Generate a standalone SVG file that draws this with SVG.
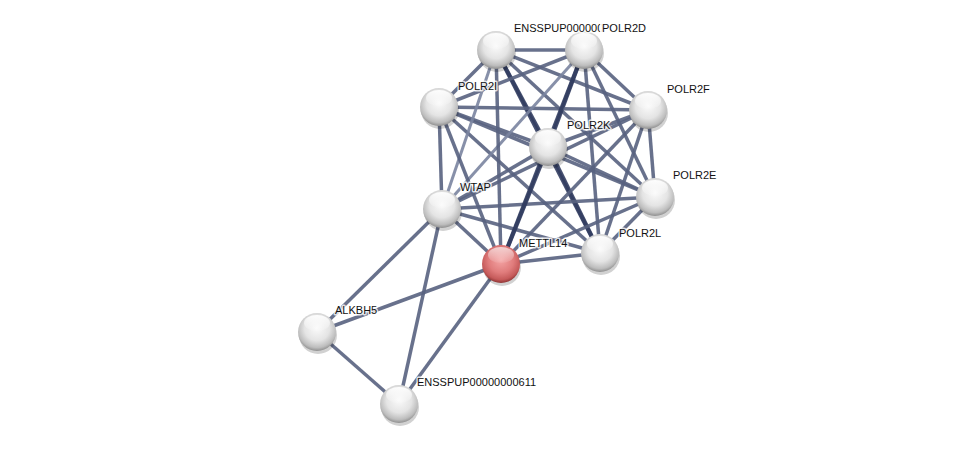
<svg xmlns="http://www.w3.org/2000/svg" width="976" height="449" viewBox="0 0 976 449">
<style>
.e{stroke:#58627f;stroke-width:3.5;stroke-opacity:0.9;fill:none;stroke-linecap:butt}
.d{stroke:#323d60;stroke-width:4}
.l{stroke:#7a84a0;stroke-width:3}
.lab{font-family:"Liberation Sans",Arial,sans-serif;font-size:11px;fill:#111}
.halo{stroke:#ffffff;stroke-width:3;stroke-opacity:0.8;paint-order:stroke;stroke-linejoin:round}
.g{fill:url(#gray)}
.r{fill:url(#red)}
.hl{fill:url(#hil)}
.sh{fill:#000;opacity:0.18}
</style>
<defs>
<radialGradient id="gray" cx="50%" cy="40%" r="60%">
<stop offset="0" stop-color="#fafafa"/>
<stop offset="0.55" stop-color="#e4e4e4"/>
<stop offset="0.85" stop-color="#bdbdbd"/>
<stop offset="1" stop-color="#8f8f8f"/>
</radialGradient>
<radialGradient id="red" cx="50%" cy="40%" r="60%">
<stop offset="0" stop-color="#f4a4a4"/>
<stop offset="0.55" stop-color="#e07c7c"/>
<stop offset="0.85" stop-color="#c55a5a"/>
<stop offset="1" stop-color="#8e3434"/>
</radialGradient>
<linearGradient id="hil" x1="0" y1="0" x2="0" y2="1">
<stop offset="0" stop-color="#ffffff" stop-opacity="0.95"/>
<stop offset="1" stop-color="#ffffff" stop-opacity="0.1"/>
</linearGradient>
</defs>
<rect width="976" height="449" fill="#ffffff"/>
<g id="edges">
<line class="e" x1="496" y1="50" x2="584" y2="50"/>
<line class="e" x1="496" y1="50" x2="439" y2="107"/>
<line class="e" x1="496" y1="50" x2="648" y2="110"/>
<line class="e d" x1="496" y1="50" x2="548" y2="147"/>
<line class="e" x1="496" y1="50" x2="655" y2="197"/>
<line class="e d" x1="496" y1="50" x2="600" y2="253"/>
<line class="e" x1="584" y1="50" x2="439" y2="107"/>
<line class="e" x1="584" y1="50" x2="648" y2="110"/>
<line class="e d" x1="584" y1="50" x2="548" y2="147"/>
<line class="e" x1="584" y1="50" x2="655" y2="197"/>
<line class="e" x1="584" y1="50" x2="600" y2="253"/>
<line class="e" x1="439" y1="107" x2="648" y2="110"/>
<line class="e" x1="439" y1="107" x2="548" y2="147"/>
<line class="e" x1="439" y1="107" x2="655" y2="197"/>
<line class="e" x1="439" y1="107" x2="600" y2="253"/>
<line class="e" x1="648" y1="110" x2="548" y2="147"/>
<line class="e" x1="648" y1="110" x2="655" y2="197"/>
<line class="e" x1="648" y1="110" x2="600" y2="253"/>
<line class="e" x1="548" y1="147" x2="655" y2="197"/>
<line class="e d" x1="548" y1="147" x2="600" y2="253"/>
<line class="e" x1="655" y1="197" x2="600" y2="253"/>
<line class="e" x1="442" y1="209" x2="439" y2="107"/>
<line class="e l" x1="442" y1="209" x2="496" y2="50"/>
<line class="e l" x1="442" y1="209" x2="584" y2="50"/>
<line class="e" x1="442" y1="209" x2="548" y2="147"/>
<line class="e" x1="442" y1="209" x2="648" y2="110"/>
<line class="e" x1="442" y1="209" x2="655" y2="197"/>
<line class="e" x1="442" y1="209" x2="600" y2="253"/>
<line class="e" x1="442" y1="209" x2="501" y2="264"/>
<line class="e" x1="442" y1="209" x2="317" y2="332"/>
<line class="e" x1="442" y1="209" x2="399" y2="404"/>
<line class="e" x1="501" y1="264" x2="439" y2="107"/>
<line class="e" x1="501" y1="264" x2="496" y2="50"/>
<line class="e d" x1="501" y1="264" x2="584" y2="50"/>
<line class="e d" x1="501" y1="264" x2="548" y2="147"/>
<line class="e" x1="501" y1="264" x2="648" y2="110"/>
<line class="e" x1="501" y1="264" x2="655" y2="197"/>
<line class="e" x1="501" y1="264" x2="600" y2="253"/>
<line class="e" x1="501" y1="264" x2="317" y2="332"/>
<line class="e" x1="501" y1="264" x2="399" y2="404"/>
<line class="e" x1="317" y1="332" x2="399" y2="404"/>
</g>
<g id="n_ens_top">
<ellipse class="sh" cx="497" cy="53" rx="19" ry="19"/>
<circle class="g" cx="496" cy="50" r="19"/>
<ellipse class="hl" cx="496" cy="41" rx="13" ry="8"/>
</g>
<g id="n_polr2d">
<ellipse class="sh" cx="585" cy="53" rx="19" ry="19"/>
<circle class="g" cx="584" cy="50" r="19"/>
<ellipse class="hl" cx="584" cy="41" rx="13" ry="8"/>
</g>
<g id="n_polr2i">
<ellipse class="sh" cx="440" cy="110" rx="19" ry="19"/>
<circle class="g" cx="439" cy="107" r="19"/>
<ellipse class="hl" cx="439" cy="98" rx="13" ry="8"/>
</g>
<g id="n_polr2f">
<ellipse class="sh" cx="649" cy="113" rx="19" ry="19"/>
<circle class="g" cx="648" cy="110" r="19"/>
<ellipse class="hl" cx="648" cy="101" rx="13" ry="8"/>
</g>
<g id="n_polr2k">
<ellipse class="sh" cx="549" cy="150" rx="19" ry="19"/>
<circle class="g" cx="548" cy="147" r="19"/>
<ellipse class="hl" cx="548" cy="138" rx="13" ry="8"/>
</g>
<g id="n_polr2e">
<ellipse class="sh" cx="656" cy="200" rx="19" ry="19"/>
<circle class="g" cx="655" cy="197" r="19"/>
<ellipse class="hl" cx="655" cy="188" rx="13" ry="8"/>
</g>
<g id="n_wtap">
<ellipse class="sh" cx="443" cy="212" rx="19" ry="19"/>
<circle class="g" cx="442" cy="209" r="19"/>
<ellipse class="hl" cx="442" cy="200" rx="13" ry="8"/>
</g>
<g id="n_polr2l">
<ellipse class="sh" cx="601" cy="256" rx="19" ry="19"/>
<circle class="g" cx="600" cy="253" r="19"/>
<ellipse class="hl" cx="600" cy="244" rx="13" ry="8"/>
</g>
<g id="n_mettl14">
<ellipse class="sh" cx="502" cy="267" rx="19" ry="19"/>
<circle class="r" cx="501" cy="264" r="19"/>
<ellipse class="hl" cx="501" cy="255" rx="13" ry="8" opacity="0.7"/>
</g>
<g id="n_alkbh5">
<ellipse class="sh" cx="318" cy="335" rx="19" ry="19"/>
<circle class="g" cx="317" cy="332" r="19"/>
<ellipse class="hl" cx="317" cy="323" rx="13" ry="8"/>
</g>
<g id="n_ens611">
<ellipse class="sh" cx="400" cy="407" rx="19" ry="19"/>
<circle class="g" cx="399" cy="404" r="19"/>
<ellipse class="hl" cx="399" cy="395" rx="13" ry="8"/>
</g>
<g id="labels">
<text class="lab halo" x="514" y="32">ENSSPUP000000</text>
<rect x="600" y="22" width="51" height="13" fill="#ffffff" opacity="0.9"/>
<text class="lab" x="602" y="32">POLR2D</text>
<text class="lab halo" x="458" y="90">POLR2I</text>
<text class="lab halo" x="667" y="93">POLR2F</text>
<text class="lab halo" x="567" y="129">POLR2K</text>
<text class="lab halo" x="673" y="179">POLR2E</text>
<text class="lab halo" x="460" y="191">WTAP</text>
<text class="lab halo" x="619" y="237">POLR2L</text>
<text class="lab halo" x="519" y="247">METTL14</text>
<text class="lab halo" x="335" y="314">ALKBH5</text>
<text class="lab halo" x="417" y="386">ENSSPUP00000000611</text>
</g>
</svg>
